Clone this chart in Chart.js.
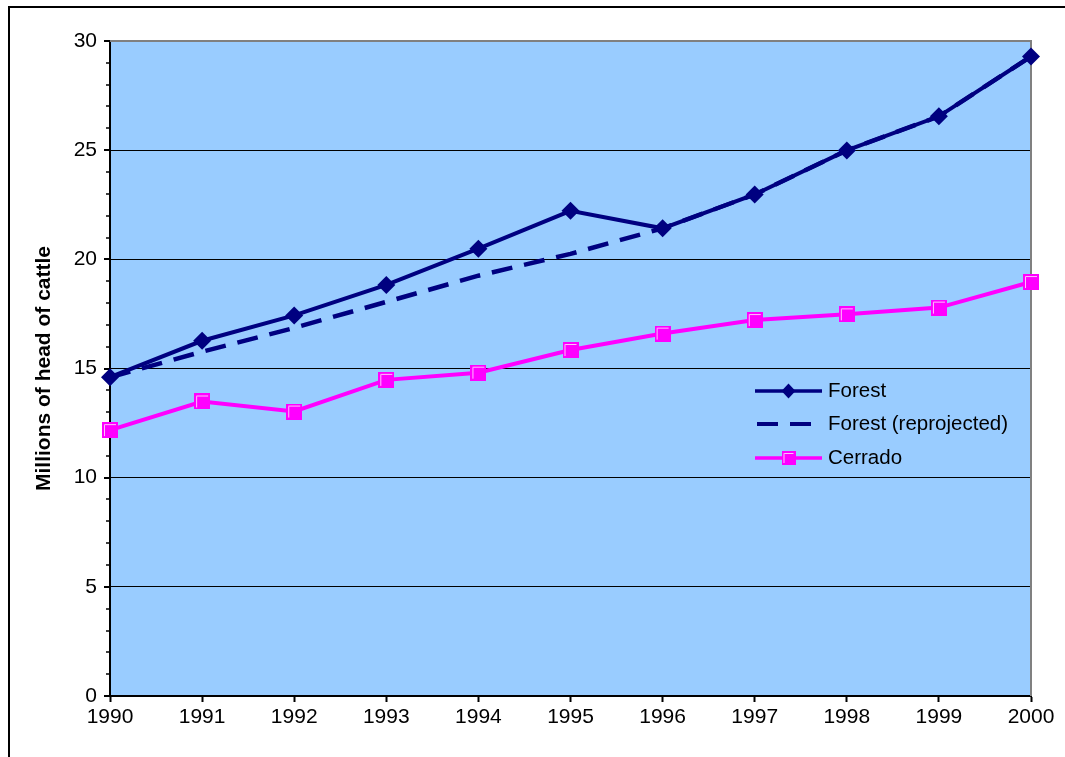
<!DOCTYPE html>
<html>
<head>
<meta charset="utf-8">
<script src="https://cdn.jsdelivr.net/npm/chart.js@4"></script>
<style>
  html, body { margin: 0; padding: 0; background: #fff; overflow: hidden; }
  #wrap { position: relative; width: 1065px; height: 757px; }
  #frame { position: absolute; left: 8px; top: 6px; width: 2000px; height: 2000px; border: 2px solid #000; box-sizing: border-box; }
  canvas { position: absolute; left: 0; top: 0; }
</style>
</head>
<body>
<div id="wrap">
  <div id="frame"></div>
  <canvas id="c" width="1065" height="757"></canvas>
</div>
<script>
const years = ['1990','1991','1992','1993','1994','1995','1996','1997','1998','1999','2000'];
const forest = [14.6, 16.27, 17.43, 18.83, 20.49, 22.22, 21.42, 22.97, 24.99, 26.55, 29.29];
const forestReprojected = [14.6, 15.77, 16.86, 18.05, 19.25, 20.25, 21.42, 22.97, 24.99, 26.55, 29.29];
const cerrado = [12.18, 13.49, 13.03, 14.48, 14.81, 15.85, 16.6, 17.22, 17.48, 17.79, 18.96];
const yTitle = 'Millions of head of cattle';
const yMajorStep = 5;

const FONT = '"Liberation Sans", Arial, sans-serif';
const NAVY = '#000080';
const MAGENTA = '#FF00FF';

function squareMarker(size) {
  const c = document.createElement('canvas');
  c.width = size; c.height = size;
  const g = c.getContext('2d');
  g.fillStyle = MAGENTA;
  g.fillRect(0, 0, size, size);
  g.strokeStyle = '#FFC0FF';
  g.lineWidth = 1;
  g.beginPath();
  g.moveTo(2.5, size - 2); g.lineTo(2.5, 2.5); g.lineTo(size - 2, 2.5);
  g.stroke();
  return c;
}
const sqBig = squareMarker(16);
const sqSmall = squareMarker(14);

const bgPlugin = {
  id: 'bg',
  beforeDraw(chart) {
    const a = chart.chartArea, ctx = chart.ctx;
    ctx.save();
    ctx.fillStyle = '#99CCFF';
    ctx.fillRect(a.left, a.top, a.right - a.left, a.bottom - a.top);
    ctx.restore();
  },
  beforeDatasetsDraw(chart) {
    const a = chart.chartArea, ctx = chart.ctx;
    ctx.save();
    ctx.strokeStyle = '#808080';
    ctx.lineWidth = 2;
    ctx.beginPath();
    ctx.moveTo(a.left, a.top); ctx.lineTo(a.right, a.top); ctx.lineTo(a.right, a.bottom);
    ctx.stroke();
    const ys = chart.scales.y;
    ctx.strokeStyle = '#000';
    ys.ticks.forEach(t => {
      const p = Math.round(ys.getPixelForValue(t.value));
      const major = t.value % yMajorStep === 0;
      ctx.lineWidth = major ? 2 : 1.5;
      ctx.beginPath();
      ctx.moveTo(a.left - (major ? 6 : 4), p);
      ctx.lineTo(a.left, p);
      ctx.stroke();
    });
    ctx.restore();
  },
  afterDraw(chart) {
    const ctx = chart.ctx;
    const x0 = 755, x1 = 822, tx = 828;
    const rows = [391, 424, 458];
    ctx.save();
    ctx.font = '20.5px ' + FONT;
    ctx.textBaseline = 'middle';
    ctx.fillStyle = '#000';
    chart.data.datasets.forEach((ds, i) => {
      const y = rows[i];
      const dashed = ds.borderDash && ds.borderDash.length;
      ctx.strokeStyle = ds.borderColor;
      ctx.lineWidth = dashed ? 4 : 3.5;
      ctx.setLineDash(dashed ? [21, 12] : []);
      ctx.beginPath();
      if (dashed) { ctx.moveTo(x0 + 2, y); ctx.lineTo(x1 - 9, y); }
      else { ctx.moveTo(x0, y); ctx.lineTo(x1, y); }
      ctx.stroke();
      ctx.setLineDash([]);
      const cx = (x0 + x1) / 2;
      if (ds.pointStyle === 'rectRot') {
        ctx.fillStyle = NAVY;
        ctx.beginPath();
        ctx.moveTo(cx, y - 7.5); ctx.lineTo(cx + 7, y); ctx.lineTo(cx, y + 7.5); ctx.lineTo(cx - 7, y);
        ctx.closePath(); ctx.fill();
      } else if (ds.pointStyle instanceof HTMLCanvasElement) {
        ctx.drawImage(sqSmall, cx - 7, y - 7);
      }
      ctx.fillStyle = '#000';
      ctx.fillText(ds.label, tx, y);
    });
    ctx.restore();
  }
};

new Chart(document.getElementById('c'), {
  type: 'line',
  data: {
    labels: years,
    datasets: [
      {
        label: 'Forest',
        data: forest,
        borderColor: NAVY,
        backgroundColor: NAVY,
        borderWidth: 4,
        pointStyle: 'rectRot',
        pointRadius: 9,
        pointBorderWidth: 0,
        pointBackgroundColor: NAVY,
        tension: 0,
        order: 1
      },
      {
        label: 'Forest (reprojected)',
        data: forestReprojected,
        borderColor: NAVY,
        backgroundColor: NAVY,
        borderWidth: 4.5,
        borderDash: [21, 12],
        pointRadius: 0,
        tension: 0,
        order: 2
      },
      {
        label: 'Cerrado',
        data: cerrado,
        borderColor: MAGENTA,
        backgroundColor: MAGENTA,
        borderWidth: 4,
        pointStyle: sqBig,
        pointRadius: 8,
        tension: 0,
        order: 0
      }
    ]
  },
  options: {
    responsive: false,
    animation: false,
    events: [],
    layout: { padding: { top: 41, right: 34, bottom: 0, left: 0 } },
    plugins: { legend: { display: false }, tooltip: { enabled: false }, title: { display: false } },
    scales: {
      x: {
        type: 'category',
        offset: false,
        grid: { display: true, drawOnChartArea: false, drawTicks: true, tickLength: 6, tickColor: '#000', tickWidth: 2 },
        border: { display: true, color: '#000', width: 2 },
        ticks: { color: '#000', font: { family: FONT, size: 21 }, padding: 3, maxRotation: 0, autoSkip: false },
        afterFit(s) { s.height = 61; }
      },
      y: {
        min: 0, max: 30,
        grid: {
          drawTicks: true, tickLength: 6, tickColor: 'transparent',
          color(ctx) {
            const v = ctx.tick ? ctx.tick.value : null;
            if (v === null || v % yMajorStep !== 0 || v === 0) return 'transparent';
            if (v === 30) return '#808080';
            return '#000';
          },
          lineWidth(ctx) { return ctx.tick && ctx.tick.value === 30 ? 2 : 1; }
        },
        border: { display: true, color: '#000', width: 2 },
        ticks: {
          stepSize: 1, autoSkip: false, color: '#000', padding: 7,
          font: { family: FONT, size: 21 },
          callback(v) { return v % yMajorStep === 0 ? String(v) : ''; }
        },
        title: { display: true, text: yTitle, color: '#000', font: { family: FONT, size: 21, weight: 'bold' }, padding: { top: 32, bottom: 0 } },
        afterFit(s) { s.width = 110; }
      }
    }
  },
  plugins: [bgPlugin]
});
</script>
</body>
</html>
